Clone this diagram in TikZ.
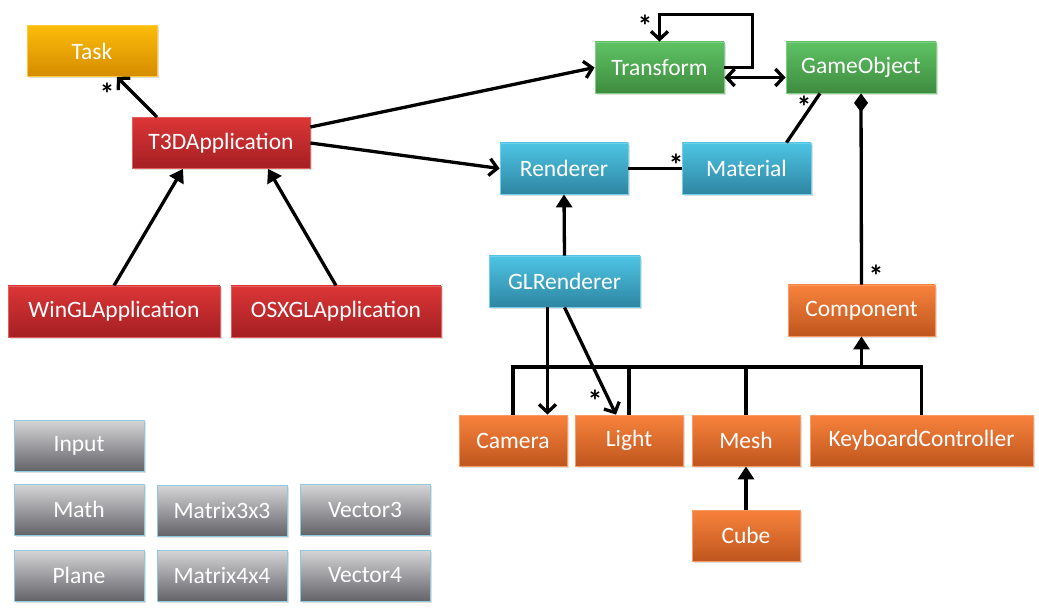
\documentclass[tikz,border=0pt]{standalone}
\usepackage{fontspec}
\setmainfont{Carlito}
\usepackage{xcolor}
\usepackage{tikz}
\usetikzlibrary{arrows.meta,shadows}

\definecolor{taskTop}{HTML}{FBBC0A}
\definecolor{taskBot}{HTML}{D58C00}
\definecolor{appTop}{HTML}{DC3636}
\definecolor{appBot}{HTML}{A41F23}
\definecolor{sceneTop}{HTML}{5EC264}
\definecolor{sceneBot}{HTML}{3E8C3F}
\definecolor{renderTop}{HTML}{4EC4E4}
\definecolor{renderBot}{HTML}{2E86A2}
\definecolor{compTop}{HTML}{F8823C}
\definecolor{compBot}{HTML}{BF561E}
\definecolor{utilTop}{HTML}{D6D6D8}
\definecolor{utilBot}{HTML}{636368}
\definecolor{utilLine}{HTML}{8CCBDD}

\begin{document}
\begin{tikzpicture}[x=1pt,y=-1pt,
  cls/.style={rectangle, minimum height=51pt, inner sep=0pt, text=white,
    font=\fontsize{23.5}{28}\selectfont, line width=0.8pt,
    drop shadow={opacity=0.25, shadow xshift=1.5pt, shadow yshift=-2pt}},
  task/.style={cls, draw=taskTop!80!white, top color=taskTop, bottom color=taskBot},
  app/.style={cls, draw=appTop!80!white, top color=appTop, bottom color=appBot},
  scene/.style={cls, draw=sceneTop!80!white, top color=sceneTop, bottom color=sceneBot},
  render/.style={cls, draw=renderTop!80!white, top color=renderTop, bottom color=renderBot},
  comp/.style={cls, draw=compTop!80!white, top color=compTop, bottom color=compBot},
  util/.style={cls, draw=utilLine, top color=utilTop, bottom color=utilBot, minimum width=130pt},
  link/.style={line width=3.3pt, line join=miter},
  assoc/.style={link, -{Straight Barb[length=8pt,width=17pt]}},
  inherit/.style={link, -{Triangle[length=13pt,width=16pt]}},
  owns/.style={link, {Diamond[length=19pt,width=14pt]}-},
  mult/.style={font=\fontsize{30}{30}\selectfont\bfseries, inner sep=0pt}]

\useasboundingbox (0,0) rectangle (1039,612);

\node[task, minimum width=130pt]	(Task) at (92,51)		{Task};
\node[app, minimum width=178pt]		(T3D) at (221,143)		{T3DApplication};
\node[app, minimum width=212pt]		(WinGL) at (114,311.5)	{WinGLApplication};
\node[app, minimum width=210pt]		(OSXGL) at (336,311.5)	{OSXGLApplication};

\node[scene, minimum width=129pt]	(Transform) at (659.5,67.5)	{Transform};
\node[scene, minimum width=150pt]	(GameObject) at (861,67.5)	{GameObject};
\node[render, minimum width=128pt]	(Renderer) at (564,168.5)	{Renderer};
\node[render, minimum width=129pt]	(Material) at (746.5,168.5)	{Material};
\node[render, minimum width=151pt]	(GLRenderer) at (564.5,281.5)	{GLRenderer};

\node[comp, minimum width=147pt]	(Component) at (861.5,310.5)	{Component};
\node[comp, minimum width=108pt]	(Camera) at (513,440.5)		{Camera};
\node[comp, minimum width=108pt]	(Light) at (629,440.5)		{Light};
\node[comp, minimum width=108pt]	(Mesh) at (746,440.5)		{Mesh};
\node[comp, minimum width=223pt]	(KeyCtrl) at (921.5,440.5)	{KeyboardController};
\node[comp, minimum width=108pt]	(Cube) at (746,535.5)		{Cube};

\node[util]	(Input) at (79,445.5)		{Input};
\node[util]	(Math) at (79,509.5)		{Math};
\node[util]	(Matrix3) at (222,510.5)	{Matrix3x3};
\node[util]	(Vector3) at (365,509.5)	{Vector3};
\node[util]	(Plane) at (79,575.5)		{Plane};
\node[util]	(Matrix4) at (222,575.5)	{Matrix4x4};
\node[util]	(Vector4) at (365,575.5)	{Vector4};

\coordinate (bus) at (0,367);

\path[assoc]
  ([xshift=-64pt]T3D.north) edge ([xshift=25pt]Task.south)
  ([yshift=16pt]T3D.east) edge (Transform.west)
  (T3D.east) edge (Renderer.west)
  ([xshift=-17pt]GLRenderer.south) edge ([xshift=-17pt]GLRenderer.south |- Camera.north)
  (GLRenderer.south) edge ([xshift=-13pt]Light.north);
\draw[assoc] (Transform.east) -- ++(28,0) -- ++(0,-53) -| (Transform.north);
\draw[link, {Straight Barb[length=8pt,width=17pt]}-{Straight Barb[length=8pt,width=17pt]}]
  ([yshift=-10pt]Transform.east) -- ([yshift=-10pt]GameObject.west);

\path[link]
  ([xshift=-41pt]GameObject.south) edge ([xshift=40pt]Material.north)
  (Renderer.east) edge (Material.west);
\draw[owns] (GameObject.south) -- (Component.north);

\path[inherit]
  (WinGL.north) edge ([xshift=-38pt]T3D.south)
  (OSXGL.north) edge ([xshift=47pt]T3D.south)
  (GLRenderer.north) edge (Renderer.south)
  (Cube.north) edge (Mesh.south);
\draw[link] (Camera.north) -- (Camera.north |- bus) -- (KeyCtrl.north |- bus) -- (KeyCtrl.north);
\draw[link] (Light.north) -- (Light.north |- bus);
\draw[link] (Mesh.north) -- (Mesh.north |- bus);
\draw[inherit] (Component.south |- bus) -- (Component.south);

\node[mult] (mTask) at (107,94) {*};
\node[mult] (mLoop) at (645,26) {*};
\node[mult] (mGame) at (804,107) {*};
\node[mult] (mMat) at (676,165) {*};
\node[mult] (mComp) at (876,276) {*};
\node[mult] (mLight) at (595,401) {*};

\end{tikzpicture}
\end{document}
